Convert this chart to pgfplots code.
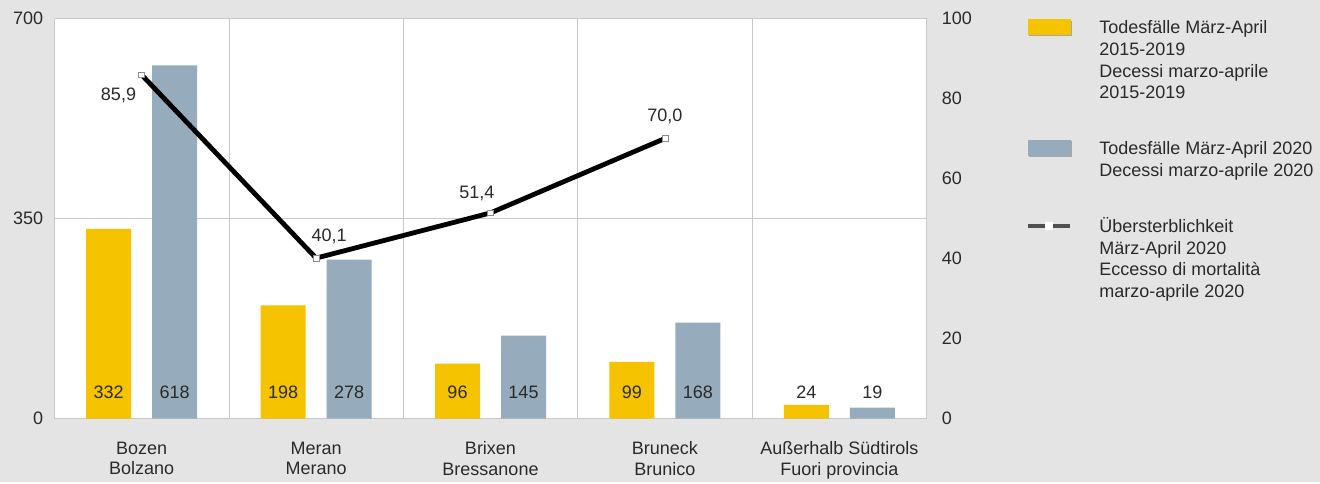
\documentclass[border=0pt]{standalone}
\usepackage{pgfplots}
\usepackage{pgfplotstable}
\pgfplotsset{compat=1.18}
\usepackage{fontspec}
\setmainfont{Liberation Sans}
\definecolor{bg}{HTML}{E4E4E4}
\definecolor{ylw}{HTML}{F5C300}
\definecolor{blu}{HTML}{96ABBB}
\definecolor{txt}{HTML}{2A2A2A}
\definecolor{grd}{HTML}{C8C8C8}
\definecolor{lgline}{HTML}{505050}
\newcommand{\fs}{\fontsize{13.5}{16.2}\selectfont}

\pgfplotstableread{
x old new
0 332 618
1 198 278
2 96 145
3 99 168
4 24 19
}\deaths

\pgfplotstableread{
x ex dx dy
0 85.9 -17.4 -15
1 40.1 9.75 16.5
2 51.4 -10.3 14.3
3 70.0 0 16.9
}\excess

\begin{document}
\begin{tikzpicture}
\fill[bg] (0,0) rectangle (990pt,361.5pt);
\begin{axis}[
  at={(40.875pt,47.625pt)}, anchor=south west,
  scale only axis, width=654pt, height=300pt,
  xmin=-0.5, xmax=4.5, ymin=0, ymax=700,
  axis y line*=left,
  axis line style={grd},
  axis background/.style={fill=white},
  ytick={0,350,700},
  xtick={0,1,2,3,4},
  xticklabels={{Bozen\\Bolzano},{Meran\\Merano},{Brixen\\Bressanone},{Bruneck\\Brunico},{Außerhalb Südtirols\\Fuori provincia}},
  extra x ticks={0.5,1.5,2.5,3.5},
  extra x tick labels={},
  extra x tick style={grid=major, major grid style={grd, line width=0.6pt}},
  ymajorgrids, grid style={grd, line width=0.6pt},
  xtick style={draw=none}, ytick style={draw=none},
  tick label style={font=\fs, text=txt},
  xticklabel style={align=center, yshift=-14pt, font=\fontsize{13.5}{15.5}\selectfont},
  yticklabel style={xshift=-5pt},
  /pgf/number format/assume math mode=true,
  clip=false,
]
\addplot[ybar, bar width=33.75pt, bar shift=-24.75pt, fill=ylw, draw=none,
  nodes near coords,
  visualization depends on={\thisrow{old} \as \rawy},
  every node near coord/.append style={anchor=center, xshift=-24.75pt, yshift={19.5pt-\rawy*0.428571pt}, font=\fs, text=txt}]
  table[x=x, y=old] {\deaths};
\addplot[ybar, bar width=33.75pt, bar shift=24.75pt, fill=blu, draw=none,
  nodes near coords,
  visualization depends on={\thisrow{new} \as \rawy},
  every node near coord/.append style={anchor=center, xshift=24.75pt, yshift={19.5pt-\rawy*0.428571pt}, font=\fs, text=txt}]
  table[x=x, y=new] {\deaths};
\end{axis}
\begin{axis}[
  at={(40.875pt,47.625pt)}, anchor=south west,
  scale only axis, width=654pt, height=300pt,
  xmin=-0.5, xmax=4.5, ymin=0, ymax=100,
  axis y line*=right, axis x line=none,
  axis line style={grd},
  ytick={0,20,40,60,80,100},
  ytick style={draw=none},
  tick label style={font=\fs, text=txt},
  yticklabel style={xshift=8pt},
  /pgf/number format/assume math mode=true,
  clip=false,
  legend cell align=left,
  legend style={draw=none, fill=none, at={(1.1095,1.005)}, anchor=north west,
    font=\fs, text=txt, row sep=29.5pt, column sep=20.25pt,
    nodes={align=left, inner sep=0pt, outer sep=0pt}},
]
\addlegendimage{legend image code/.code={
  \fill[black!35] (1pt,18.8pt) rectangle (32.5pt,29.8pt);
  \fill[ylw] (0pt,19.8pt) rectangle (31.5pt,30.8pt);}}
\addlegendentry{Todesfälle März-April\\2015-2019\\Decessi marzo-aprile\\2015-2019}
\addlegendimage{legend image code/.code={
  \fill[black!35] (1pt,2.6pt) rectangle (32.5pt,13.6pt);
  \fill[blu] (0pt,3.6pt) rectangle (31.5pt,14.6pt);}}
\addlegendentry{Todesfälle März-April 2020\\Decessi marzo-aprile 2020}
\addplot[black, line width=3.6pt, mark=square*, mark size=2.2pt,
  mark options={fill=white, draw=black!45, line width=0.5pt},
  nodes near coords, point meta=explicit,
  /pgf/number format/.cd, use comma, fixed, fixed zerofill, precision=1,
  /pgfplots/.cd,
  visualization depends on={\thisrow{dx} \as \ddx},
  visualization depends on={\thisrow{dy} \as \ddy},
  every node near coord/.append style={anchor=center, xshift={\ddx*1pt}, yshift={\ddy*1pt}, font=\fs, text=txt},
  legend image code/.code={
    \draw[lgline, line width=3pt] (0pt,24.3pt) -- (31.5pt,24.3pt);
    \fill[white] (14.5pt,23.1pt) rectangle (17pt,25.5pt);}]
  table[x=x, y=ex, meta=ex] {\excess};
\addlegendentry{Übersterblichkeit\\März-April 2020\\Eccesso di mortalità\\marzo-aprile 2020}
\end{axis}
\end{tikzpicture}
\end{document}
